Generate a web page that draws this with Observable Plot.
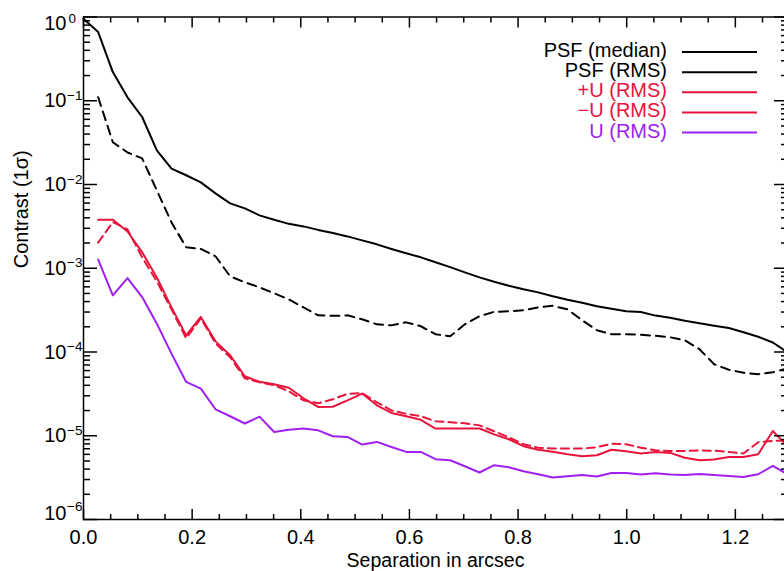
<!DOCTYPE html>
<html><head><meta charset="utf-8">
<script src="https://cdn.jsdelivr.net/npm/d3@7"></script>
<script src="https://cdn.jsdelivr.net/npm/@observablehq/plot@0.6"></script>
<style>
html,body{margin:0;padding:0;background:#fff;overflow:hidden}
#chart svg{display:block}
</style></head><body><div id="chart"></div>
<script>
// Separation (arcsec) of each sample
const separation = [0.000,0.027,0.054,0.081,0.108,0.135,0.162,0.189,0.216,0.243,0.270,0.297,0.324,0.351,0.378,0.405,0.432,0.459,0.486,0.513,0.540,0.567,0.594,0.621,0.648,0.675,0.702,0.729,0.756,0.783,0.810,0.837,0.864,0.891,0.918,0.945,0.972,0.999,1.026,1.053,1.080,1.107,1.134,1.161,1.188,1.215,1.242,1.269,1.296];

const psfMedian = [0.95,0.66,0.22,0.110,0.064,0.0256,0.0155,0.0129,0.0106,0.00783,0.00595,0.00519,0.00428,0.0038,0.00339,0.00316,0.00287,0.00264,0.0024,0.00215,0.00193,0.0017,0.00151,0.00135,0.00118,0.00103,0.000893,0.000778,0.000689,0.000617,0.00056,0.000515,0.000462,0.00042,0.000387,0.000351,0.000328,0.000306,0.0003,0.000272,0.000257,0.000236,0.00022,0.000206,0.000193,0.000172,0.000152,0.00013,0.0000991];

const psfRms = [null,0.11,0.032,0.0241,0.0205,0.0085,0.00353,0.00178,0.0017,0.00139,0.0008,0.000679,0.000592,0.000502,0.000425,0.000341,0.000274,0.00027,0.000274,0.000246,0.000214,0.000208,0.000226,0.000203,0.000163,0.000154,0.000214,0.000267,0.000302,0.000306,0.000315,0.000341,0.000356,0.000323,0.000239,0.000182,0.000163,0.000163,0.000161,0.000156,0.00015,0.000138,0.000108,0.0000713,0.0000614,0.0000565,0.0000542,0.0000573,0.0000639];

const uPlusRms = [null,0.0038,0.0038,0.00275,0.00155,0.000778,0.000341,0.000158,0.000262,0.000134,0.0000914,0.0000513,0.0000441,0.0000412,0.0000374,0.000028,0.0000221,0.0000222,0.0000265,0.0000319,0.0000231,0.0000187,0.0000171,0.0000155,0.0000122,0.0000122,0.0000122,0.0000122,0.0000104,0.00000908,0.0000075,0.00000681,0.00000644,0.00000601,0.00000569,0.00000585,0.00000681,0.00000653,0.00000613,0.00000641,0.00000624,0.00000546,0.0000051,0.0000052,0.00000558,0.00000558,0.00000601,0.0000114,0.0000075];

const uMinusRms = [null,0.00202,0.00356,0.00291,0.00135,0.000698,0.000323,0.000146,0.000252,0.000127,0.0000865,0.0000485,0.0000435,0.0000401,0.000034,0.0000265,0.0000244,0.0000273,0.0000317,0.0000322,0.0000251,0.0000201,0.0000183,0.0000171,0.0000149,0.0000145,0.0000141,0.0000133,0.0000113,0.0000096,0.00000792,0.0000072,0.00000703,0.00000703,0.00000703,0.0000073,0.00000803,0.00000792,0.0000072,0.00000671,0.00000659,0.00000659,0.00000666,0.00000663,0.00000641,0.00000613,0.00000836,0.00000871,0.00000883];

const uRms = [null,0.00127,0.000475,0.000764,0.000453,0.000218,0.0000957,0.0000439,0.0000366,0.0000207,0.0000171,0.000014,0.0000169,0.0000111,0.0000118,0.0000122,0.0000116,0.00000986,0.00000968,0.00000785,0.00000844,0.00000735,0.00000641,0.00000641,0.00000525,0.0000051,0.00000432,0.00000364,0.00000445,0.00000421,0.00000377,0.00000347,0.00000317,0.00000329,0.0000034,0.00000326,0.0000036,0.0000036,0.00000344,0.00000357,0.00000344,0.0000034,0.0000035,0.0000034,0.00000331,0.00000322,0.00000347,0.00000436,0.00000347];

const seriesNames = ["PSF (median)", "PSF (RMS)", "+U (RMS)", "\u2212U (RMS)", "U (RMS)"];
const xTickValues = [0, 0.2, 0.4, 0.6, 0.8, 1.0, 1.2];
const xTickLabels = ["0.0", "0.2", "0.4", "0.6", "0.8", "1.0", "1.2"];
const yTickExponents = [0, -1, -2, -3, -4, -5, -6];
const xLabel = "Separation in arcsec";
const yLabel = "Contrast (1\u03c3)";

const RED = "#e8143c", PURPLE = "#a020f0", BLACK = "#000";
const seriesStyle = [
  {values: psfMedian, stroke: BLACK, dash: null},
  {values: psfRms, stroke: BLACK, dash: "9,6"},
  {values: uPlusRms, stroke: RED, dash: null},
  {values: uMinusRms, stroke: RED, dash: "8,5"},
  {values: uRms, stroke: PURPLE, dash: null}
];

const font = "'Liberation Sans', Arial, Helvetica, sans-serif";
const minorX = d3.range(0, 1.30, 0.05).filter(v => !xTickValues.some(t => Math.abs(t - v) < 1e-6));
const majorY = yTickExponents.map(e => 10 ** e);
const minorY = [];
for (const e of yTickExponents) if (e < 0) for (let m = 2; m <= 9; m++) minorY.push(m * 10 ** e);

const lineMarks = seriesStyle.map(s => {
  const rows = separation.map((x, i) => ({x, y: s.values[i]})).filter(d => d.y != null);
  return Plot.line(rows, {x: "x", y: "y", stroke: s.stroke, strokeWidth: 2, strokeDasharray: s.dash || undefined, strokeLinejoin: "round"});
});

const tickOpts = {fill: "none", label: null, strokeWidth: 1.5, stroke: "black"};
const midExp = yTickExponents.filter(e => e < 0 && e > -6);

const chart = Plot.plot({
  width: 784, height: 571,
  marginTop: 16.5, marginBottom: 52, marginLeft: 83, marginRight: -3,
  style: {fontFamily: font, background: "white", color: "black"},
  x: {domain: [0, 1.296], axis: null},
  y: {type: "log", domain: [1e-6, 1], axis: null},
  marks: [
    ...lineMarks,
    Plot.axisX(xTickValues, {...tickOpts, anchor: "bottom", tickSize: -10}),
    Plot.axisX(minorX, {...tickOpts, anchor: "bottom", tickSize: -5}),
    Plot.axisX(xTickValues, {...tickOpts, anchor: "top", tickSize: -10}),
    Plot.axisX(minorX, {...tickOpts, anchor: "top", tickSize: -5}),
    Plot.axisY(majorY, {...tickOpts, anchor: "left", tickSize: -14}),
    Plot.axisY(minorY, {...tickOpts, anchor: "left", tickSize: -7}),
    Plot.axisY(majorY, {...tickOpts, anchor: "right", tickSize: -14}),
    Plot.axisY(minorY, {...tickOpts, anchor: "right", tickSize: -7}),
    Plot.frame({stroke: "black", strokeWidth: 1.5}),
    // x tick labels
    Plot.text(xTickValues, {x: d => d, text: (d, i) => xTickLabels[i], frameAnchor: "bottom", lineAnchor: "bottom", dy: 24.5, fontSize: 20, fill: "black"}),
    // y tick labels: base "10"
    Plot.text(midExp, {y: e => 10 ** e, text: () => "10", frameAnchor: "left", textAnchor: "end", lineAnchor: "bottom", dx: -17, dy: 6.5, fontSize: 20, fill: "black"}),
    Plot.text([0], {y: e => 10 ** e, text: () => "10", frameAnchor: "left", textAnchor: "end", lineAnchor: "bottom", dx: -17, dy: 12.5, fontSize: 20, fill: "black"}),
    Plot.text([-6], {y: e => 10 ** e, text: () => "10", frameAnchor: "left", textAnchor: "end", lineAnchor: "bottom", dx: -17, dy: 0.5, fontSize: 20, fill: "black"}),
    // y tick labels: exponents
    Plot.text(midExp, {y: e => 10 ** e, text: e => "\u2212" + (-e), frameAnchor: "left", textAnchor: "start", lineAnchor: "bottom", dx: -16.5, dy: -1, fontSize: 13.5, fill: "black"}),
    Plot.text([0], {y: e => 10 ** e, text: () => "0", frameAnchor: "left", textAnchor: "start", lineAnchor: "bottom", dx: -15, dy: 6, fontSize: 13.5, fill: "black"}),
    Plot.text([-6], {y: e => 10 ** e, text: e => "\u2212" + (-e), frameAnchor: "left", textAnchor: "start", lineAnchor: "bottom", dx: -16.5, dy: -8.5, fontSize: 13.5, fill: "black"}),
    // axis titles
    Plot.text([xLabel], {text: d => d, frameAnchor: "bottom", lineAnchor: "bottom", dy: 47, fontSize: 19.5, fill: "black"}),
    Plot.text([yLabel], {text: d => d, frameAnchor: "left", lineAnchor: "bottom", rotate: -90, dx: -56, fontSize: 20, fill: "black"})
  ]
});

// Legend (IDL style: right-aligned labels with line samples)
const svg = d3.select(chart);
const legendColors = [BLACK, BLACK, RED, RED, PURPLE];
const lg = svg.append("g").attr("font-family", font).attr("font-size", 20);
seriesNames.forEach((name, i) => {
  const yy = 52 + i * 20.15;
  lg.append("text").attr("x", 667).attr("y", yy + 5).attr("text-anchor", "end").attr("fill", legendColors[i]).text(name);
  lg.append("line").attr("x1", 682).attr("x2", 757).attr("y1", yy).attr("y2", yy).attr("stroke", legendColors[i]).attr("stroke-width", 2);
});

document.getElementById("chart").appendChild(chart);
</script>
</body></html>
